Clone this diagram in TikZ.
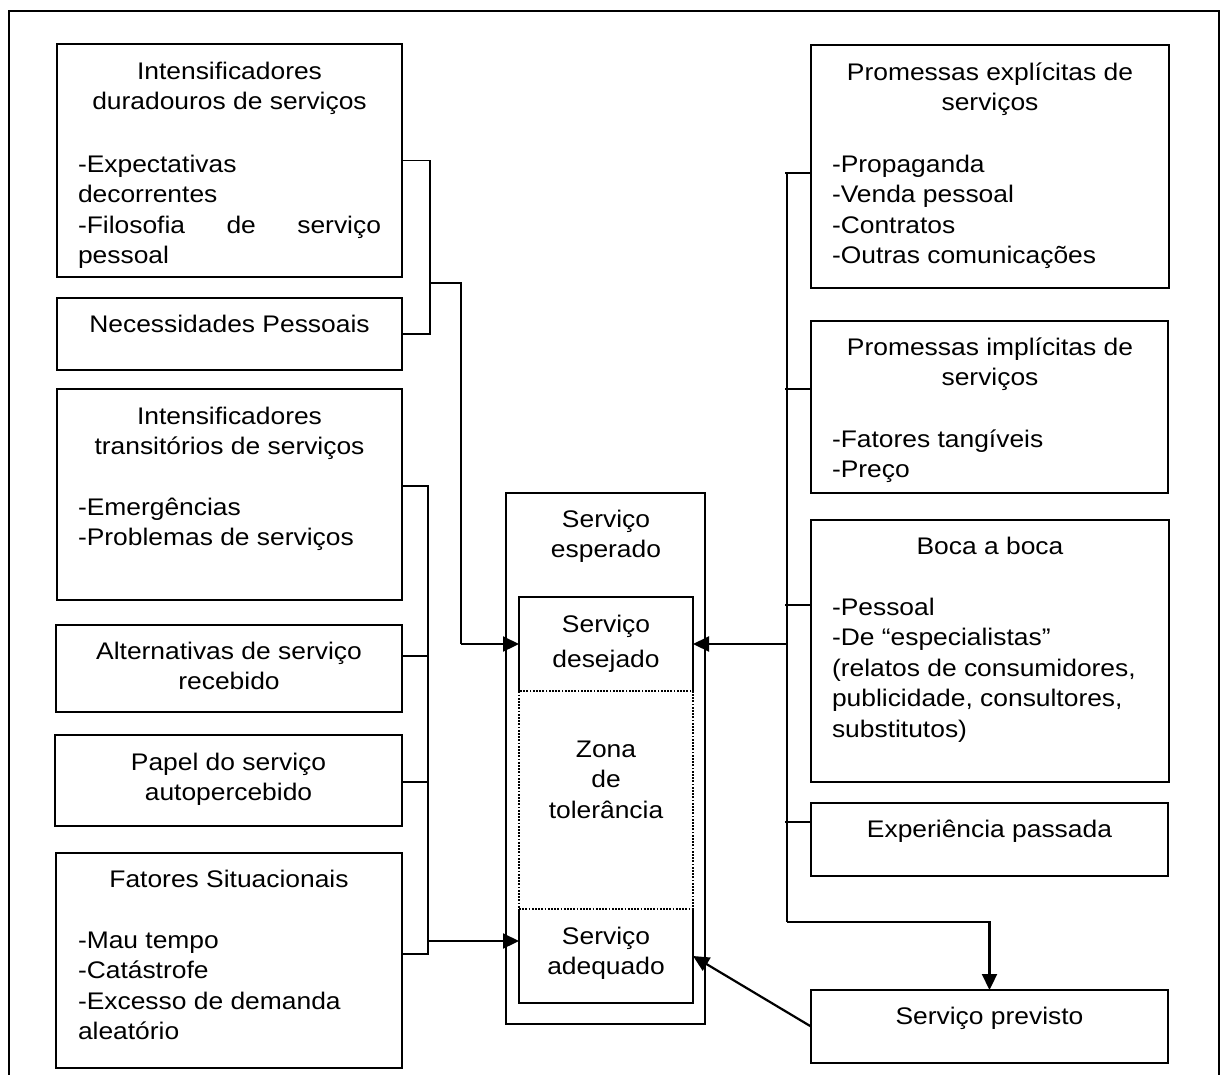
\documentclass[tikz,border=0pt]{standalone}
\usepackage{fontspec}
\setmainfont{Liberation Sans}[FakeStretch=1.1]
\usetikzlibrary{arrows.meta}
\begin{document}
\begin{tikzpicture}[x=1pt,y=-1pt,
  box/.style={draw,line width=1.8pt,inner sep=0pt,outer sep=0pt},
  openbox/.style={inner sep=0pt,outer sep=0pt},
  dotbox/.style={draw,line width=2pt,dash pattern=on 1.8pt off 1.4pt,inner sep=0pt,outer sep=0pt},
  txt/.style={inner sep=0pt,outer sep=0pt,font=\fontsize{24}{30.5}\selectfont},
  ctxt/.style={txt,align=center,anchor=north},
  ltxt/.style={txt,align=left,anchor=north west},
  conn/.style={line width=1.4pt},
  arr/.style={line width=2.2pt,-{Triangle[length=16pt,width=15pt]}},
  frame/.style={line width=2.2pt}]
\useasboundingbox (0,0) rectangle (1221,1074);
\draw[frame] (9,1080) -- (9,11) -- (1219,11) -- (1219,1080);

% left boxes
\node[box,minimum width=345pt,minimum height=233pt] (B1) at (229.5,160.5) {};
\node[box,minimum width=345pt,minimum height=72pt] (B2) at (229.5,334) {};
\node[box,minimum width=345pt,minimum height=211pt] (B3) at (229.5,494.5) {};
\node[box,minimum width=346pt,minimum height=87pt] (B4) at (229,668.5) {};
\node[box,minimum width=347pt,minimum height=91pt] (B5) at (228.5,780.5) {};
\node[box,minimum width=346pt,minimum height=215pt] (B6) at (229,960.5) {};

\node[ctxt] (B1h) at (229.5,57.65) {\strut Intensificadores\\\strut duradouros de servi\c{c}os};
\node[ltxt] (B1l) at (78,150.65) {\strut -Expectativas\\\strut decorrentes\\\strut\hbox to 303pt{-Filosofia\hfill de\hfill servi\c{c}o}\\\strut pessoal};
\node[ctxt] (B2t) at (229.5,310.65) {\strut Necessidades Pessoais};
\node[ctxt] (B3h) at (229.5,402.65) {\strut Intensificadores\\\strut transit\'orios de servi\c{c}os};
\node[ltxt] (B3l) at (78,493.65) {\strut -Emerg\^encias\\\strut -Problemas de servi\c{c}os};
\node[ctxt] (B4t) at (229,637.65) {\strut Alternativas de servi\c{c}o\\\strut recebido};
\node[ctxt] (B5t) at (228.5,748.65) {\strut Papel do servi\c{c}o\\\strut autopercebido};
\node[ctxt] (B6h) at (229,865.65) {\strut Fatores Situacionais};
\node[ltxt] (B6l) at (78,926.65) {\strut -Mau tempo\\\strut -Cat\'astrofe\\\strut -Excesso de demanda\\\strut aleat\'orio};

% center
\node[box,minimum width=199pt,minimum height=531pt] (E) at (605.5,758.5) {};
\node[openbox,minimum width=174pt,minimum height=94pt] (D) at (606,644) {};
\node[dotbox,minimum width=174pt,minimum height=218pt] (Z) at (606,800) {};
\node[openbox,minimum width=174pt,minimum height=94pt] (A) at (606,956) {};
\draw[line width=1.8pt] (D.south west) -- (D.north west) -- (D.north east) -- (D.south east);
\draw[line width=1.8pt] (A.north west) -- (A.south west) -- (A.south east) -- (A.north east);

\node[ctxt] (Et) at (606,505.65) {\strut Servi\c{c}o\\\strut esperado};
\node[ctxt] (Dt) at (606,610.65) {\strut Servi\c{c}o\\[4.5pt]\strut desejado};
\node[ctxt] (Zt) at (606,735.65) {\strut Zona\\\strut de\\\strut toler\^ancia};
\node[ctxt] (At) at (606,922.65) {\strut Servi\c{c}o\\\strut adequado};

% right boxes
\node[box,minimum width=358pt,minimum height=243pt] (R1) at (990,166.5) {};
\node[box,minimum width=357pt,minimum height=172pt] (R2) at (989.5,407) {};
\node[box,minimum width=358pt,minimum height=262pt] (R3) at (990,651) {};
\node[box,minimum width=357pt,minimum height=73pt] (R4) at (989.5,839.5) {};
\node[box,minimum width=357pt,minimum height=73pt] (R5) at (989.5,1026.5) {};

\node[ctxt] (R1h) at (990,58.65) {\strut Promessas expl\'{\i}citas de\\\strut servi\c{c}os};
\node[ltxt] (R1l) at (832,150.65) {\strut -Propaganda\\\strut -Venda pessoal\\\strut -Contratos\\\strut -Outras comunica\c{c}\~oes};
\node[ctxt] (R2h) at (990,333.65) {\strut Promessas impl\'{\i}citas de\\\strut servi\c{c}os};
\node[ltxt] (R2l) at (832,425.65) {\strut -Fatores tang\'{\i}veis\\\strut -Pre\c{c}o};
\node[ctxt] (R3h) at (990,532.65) {\strut Boca a boca};
\node[ltxt] (R3l) at (832,593.65) {\strut -Pessoal\\\strut -De “especialistas”\\\strut (relatos de consumidores,\\\strut publicidade, consultores,\\\strut substitutos)};
\node[ctxt] (R4t) at (989.5,815.65) {\strut Experi\^encia passada};
\node[ctxt] (R5t) at (989.5,1002.65) {\strut Servi\c{c}o previsto};

% left connectors
\coordinate (s1x) at (430,0);
\coordinate (s1m) at (430,283);
\coordinate (s1k) at (461,283);
\coordinate (s1c) at (461,644);
\draw[conn] (B1.east) -- (B1.east -| s1x) -- (B2.east -| s1x) -- (B2.east);
\draw[conn] (s1m) -- (s1k) -- (s1c);
\draw[arr] (s1c) -- (D.west);

\coordinate (t3) at (428,486);
\coordinate (t4) at (428,656);
\coordinate (t5) at (428,782);
\coordinate (t6) at (428,954);
\coordinate (a2) at (428,941);
\draw[conn] (t3 -| B3.east) -- (t3) -- (t6) -- (t6 -| B6.east);
\draw[conn] (t4 -| B4.east) -- (t4);
\draw[conn] (t5 -| B5.east) -- (t5);
\draw[arr] (a2) -- (a2 -| A.west);

% right connectors
\coordinate (r1) at (787,173);
\coordinate (r2) at (787,389);
\coordinate (r3) at (787,605);
\coordinate (r4) at (787,822);
\coordinate (ra) at (787,644);
\coordinate (rb) at (787,922);
\draw[conn] (r1) -- (rb);
\draw[conn] ([xshift=-2pt]r1) -- (r1 -| R1.west);
\draw[conn] ([xshift=-2pt]r2) -- (r2 -| R2.west);
\draw[conn] ([xshift=-2pt]r3) -- (r3 -| R3.west);
\draw[conn] ([xshift=-2pt]r4) -- (r4 -| R4.west);
\draw[arr] (ra) -- (D.east);
\draw[arr] (rb) -| (R5.north);
\draw[arr] (R5.west) -- (A.east);
\end{tikzpicture}
\end{document}
